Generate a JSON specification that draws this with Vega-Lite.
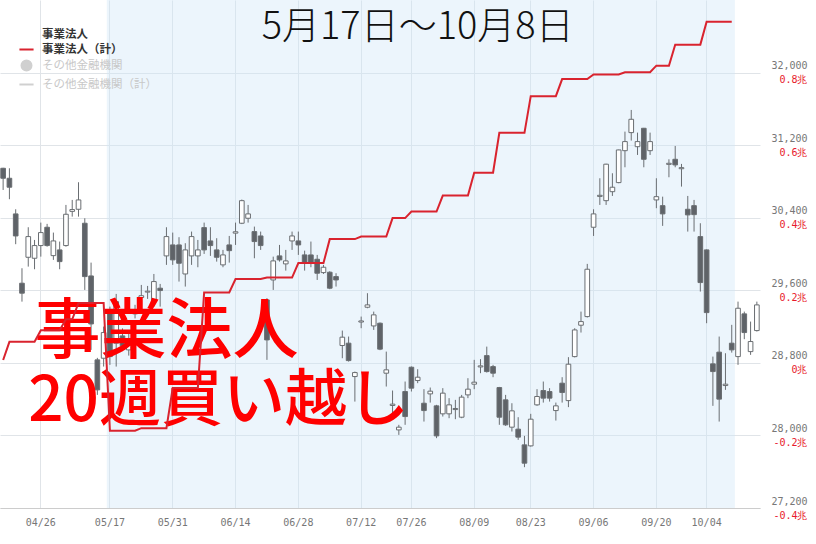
{
  "$schema": "https://vega.github.io/schema/vega-lite/v6.json",
  "width": 760,
  "height": 508,
  "autosize": {"type": "none"},
  "padding": {"left": 0, "top": 0, "right": 56, "bottom": 36},
  "background": "white",
  "config": {"view": {"stroke": null}, "font": "DejaVu Sans Mono"},
  "datasets": {
    "candles": [
      {"d":"04/16","o":30945,"h":30950,"l":30706,"c":30835},
      {"d":"04/19","o":30835,"h":30945,"l":30604,"c":30736},
      {"d":"04/20","o":30442,"h":30493,"l":30108,"c":30199},
      {"d":"04/21","o":29678,"h":29843,"l":29475,"c":29568},
      {"d":"04/22","o":29964,"h":30295,"l":29861,"c":30192},
      {"d":"04/23","o":29953,"h":30155,"l":29832,"c":30093},
      {"d":"04/26","o":30093,"h":30346,"l":29971,"c":30236},
      {"d":"04/27","o":30295,"h":30332,"l":30081,"c":30093},
      {"d":"04/28","o":29982,"h":30236,"l":29935,"c":30144},
      {"d":"04/30","o":30045,"h":30137,"l":29832,"c":29916},
      {"d":"05/06","o":30093,"h":30541,"l":30081,"c":30438},
      {"d":"05/07","o":30470,"h":30596,"l":30412,"c":30490},
      {"d":"05/10","o":30493,"h":30791,"l":30412,"c":30596},
      {"d":"05/11","o":30339,"h":30394,"l":29604,"c":29751},
      {"d":"05/12","o":29758,"h":29905,"l":28943,"c":29229},
      {"d":"05/13","o":28833,"h":28855,"l":28447,"c":28502},
      {"d":"05/14","o":28851,"h":29200,"l":28759,"c":29134},
      {"d":"05/17","o":29376,"h":29420,"l":28778,"c":28869},
      {"d":"05/18","o":29017,"h":29560,"l":28759,"c":29475},
      {"d":"05/19","o":29097,"h":29180,"l":28930,"c":28990},
      {"d":"05/20","o":28943,"h":29130,"l":28880,"c":29053},
      {"d":"05/21","o":29340,"h":29440,"l":29290,"c":29385},
      {"d":"05/24","o":29520,"h":29659,"l":29420,"c":29540},
      {"d":"05/25","o":29580,"h":29648,"l":29505,"c":29590},
      {"d":"05/26","o":29475,"h":29780,"l":29420,"c":29696},
      {"d":"05/27","o":29623,"h":29670,"l":29420,"c":29597},
      {"d":"05/28","o":29979,"h":30295,"l":29880,"c":30192},
      {"d":"05/31","o":30100,"h":30236,"l":29880,"c":29935},
      {"d":"06/01","o":30100,"h":30185,"l":29696,"c":29898},
      {"d":"06/02","o":29780,"h":30119,"l":29641,"c":30045},
      {"d":"06/03","o":29979,"h":30247,"l":29880,"c":30192},
      {"d":"06/04","o":29979,"h":30155,"l":29854,"c":30045},
      {"d":"06/07","o":30291,"h":30346,"l":30001,"c":30045},
      {"d":"06/08","o":30144,"h":30295,"l":29979,"c":30093},
      {"d":"06/09","o":30045,"h":30174,"l":29916,"c":29964},
      {"d":"06/10","o":29880,"h":30045,"l":29854,"c":29990},
      {"d":"06/11","o":30100,"h":30199,"l":29905,"c":30037},
      {"d":"06/14","o":30230,"h":30346,"l":30100,"c":30245},
      {"d":"06/15","o":30339,"h":30600,"l":30330,"c":30588},
      {"d":"06/16","o":30394,"h":30541,"l":30346,"c":30442},
      {"d":"06/17","o":30247,"h":30302,"l":29953,"c":30137},
      {"d":"06/18","o":30199,"h":30247,"l":30045,"c":30093},
      {"d":"06/21","o":29494,"h":29513,"l":28833,"c":29053},
      {"d":"06/22","o":29714,"h":29971,"l":29604,"c":29924},
      {"d":"06/23","o":29979,"h":30100,"l":29916,"c":29935},
      {"d":"06/24","o":29891,"h":30045,"l":29817,"c":29924},
      {"d":"06/25","o":30144,"h":30247,"l":30045,"c":30199},
      {"d":"06/28","o":30144,"h":30247,"l":29990,"c":30100},
      {"d":"06/29","o":29990,"h":30037,"l":29817,"c":29905},
      {"d":"06/30","o":29990,"h":30137,"l":29854,"c":29898},
      {"d":"07/01","o":29942,"h":29990,"l":29714,"c":29788},
      {"d":"07/02","o":29795,"h":29880,"l":29780,"c":29854},
      {"d":"07/05","o":29799,"h":29810,"l":29612,"c":29623},
      {"d":"07/06","o":29751,"h":29788,"l":29641,"c":29714},
      {"d":"07/07","o":28991,"h":29156,"l":28851,"c":29083},
      {"d":"07/08","o":29017,"h":29090,"l":28814,"c":28825},
      {"d":"07/09","o":28649,"h":28704,"l":28373,"c":28693},
      {"d":"07/12","o":29250,"h":29310,"l":29182,"c":29262},
      {"d":"07/13","o":29413,"h":29568,"l":29402,"c":29439},
      {"d":"07/14","o":29207,"h":29365,"l":29163,"c":29329},
      {"d":"07/15","o":29237,"h":29245,"l":28940,"c":28951},
      {"d":"07/16","o":28686,"h":28924,"l":28539,"c":28723},
      {"d":"07/19","o":28330,"h":28495,"l":28190,"c":28345},
      {"d":"07/20","o":28061,"h":28117,"l":28006,"c":28091},
      {"d":"07/21","o":28484,"h":28594,"l":28117,"c":28208},
      {"d":"07/26","o":28752,"h":28760,"l":28484,"c":28521},
      {"d":"07/27","o":28605,"h":28730,"l":28576,"c":28642},
      {"d":"07/28","o":28355,"h":28510,"l":28153,"c":28274},
      {"d":"07/29","o":28458,"h":28528,"l":28362,"c":28488},
      {"d":"07/30","o":28326,"h":28337,"l":27970,"c":27995},
      {"d":"08/02","o":28238,"h":28521,"l":28208,"c":28466},
      {"d":"08/03","o":28238,"h":28411,"l":28190,"c":28337},
      {"d":"08/04","o":28285,"h":28392,"l":28179,"c":28297},
      {"d":"08/05","o":28201,"h":28447,"l":28190,"c":28422},
      {"d":"08/06","o":28447,"h":28631,"l":28411,"c":28510},
      {"d":"08/10","o":28565,"h":28833,"l":28510,"c":28587},
      {"d":"08/11","o":28755,"h":28841,"l":28686,"c":28767},
      {"d":"08/12","o":28880,"h":28979,"l":28693,"c":28704},
      {"d":"08/13","o":28759,"h":28778,"l":28642,"c":28686},
      {"d":"08/16","o":28528,"h":28535,"l":28117,"c":28201},
      {"d":"08/17","o":28392,"h":28447,"l":28105,"c":28117},
      {"d":"08/18","o":28091,"h":28355,"l":28043,"c":28271},
      {"d":"08/19","o":28069,"h":28201,"l":27951,"c":27981},
      {"d":"08/20","o":27896,"h":27995,"l":27650,"c":27694},
      {"d":"08/23","o":27885,"h":28238,"l":27877,"c":28179},
      {"d":"08/24","o":28337,"h":28510,"l":28326,"c":28429},
      {"d":"08/25","o":28495,"h":28594,"l":28362,"c":28411},
      {"d":"08/26","o":28484,"h":28521,"l":28373,"c":28411},
      {"d":"08/27","o":28274,"h":28362,"l":28164,"c":28326},
      {"d":"08/30","o":28576,"h":28642,"l":28362,"c":28473},
      {"d":"08/31","o":28384,"h":28863,"l":28312,"c":28785},
      {"d":"09/01","o":28869,"h":29182,"l":28860,"c":29163},
      {"d":"09/02","o":29215,"h":29365,"l":29134,"c":29255},
      {"d":"09/03","o":29310,"h":29891,"l":29300,"c":29832},
      {"d":"09/06","o":30295,"h":30493,"l":30199,"c":30442},
      {"d":"09/07","o":30635,"h":30835,"l":30541,"c":30647},
      {"d":"09/08","o":30588,"h":30995,"l":30541,"c":30990},
      {"d":"09/09","o":30687,"h":30890,"l":30640,"c":30736},
      {"d":"09/10","o":30787,"h":31150,"l":30780,"c":31147},
      {"d":"09/13","o":31139,"h":31349,"l":30956,"c":31239},
      {"d":"09/14","o":31338,"h":31588,"l":31250,"c":31485},
      {"d":"09/15","o":31183,"h":31338,"l":31092,"c":31239},
      {"d":"09/16","o":31386,"h":31390,"l":30956,"c":31044},
      {"d":"09/17","o":31139,"h":31338,"l":31092,"c":31239},
      {"d":"09/21","o":30596,"h":30835,"l":30505,"c":30632},
      {"d":"09/22","o":30533,"h":30632,"l":30310,"c":30442},
      {"d":"09/24","o":30988,"h":31044,"l":30846,"c":31000},
      {"d":"09/27","o":31044,"h":31191,"l":30956,"c":30982},
      {"d":"09/28","o":30940,"h":30993,"l":30743,"c":30952},
      {"d":"09/29","o":30493,"h":30640,"l":30247,"c":30431},
      {"d":"09/30","o":30533,"h":30596,"l":30247,"c":30434},
      {"d":"10/01","o":30192,"h":30339,"l":29586,"c":29685},
      {"d":"10/04","o":30045,"h":30050,"l":29237,"c":29354},
      {"d":"10/05","o":28789,"h":28869,"l":28326,"c":28704},
      {"d":"10/06","o":28918,"h":29090,"l":28153,"c":28400},
      {"d":"10/07","o":28550,"h":28906,"l":28502,"c":28565},
      {"d":"10/08","o":29017,"h":29219,"l":28913,"c":28943},
      {"d":"10/11","o":28869,"h":29475,"l":28778,"c":29402},
      {"d":"10/12","o":29340,"h":29365,"l":29061,"c":29134},
      {"d":"10/13","o":28924,"h":29255,"l":28888,"c":29035},
      {"d":"10/14","o":29156,"h":29475,"l":29145,"c":29439}
    ],
    "flow": [
      {"d":"04/16","v":0.008},
      {"d":"04/19","v":0.058},{"d":"04/20","v":0.058},{"d":"04/21","v":0.058},{"d":"04/22","v":0.058},{"d":"04/23","v":0.058},
      {"d":"04/26","v":0.09},{"d":"04/27","v":0.09},{"d":"04/28","v":0.09},{"d":"04/30","v":0.09},
      {"d":"05/06","v":0.12},{"d":"05/07","v":0.12},
      {"d":"05/10","v":0.165},{"d":"05/11","v":0.165},{"d":"05/12","v":0.165},{"d":"05/13","v":0.165},{"d":"05/14","v":0.165},
      {"d":"05/17","v":-0.187},{"d":"05/18","v":-0.187},{"d":"05/19","v":-0.187},{"d":"05/20","v":-0.187},{"d":"05/21","v":-0.187},
      {"d":"05/24","v":-0.18},{"d":"05/25","v":-0.18},{"d":"05/26","v":-0.18},{"d":"05/27","v":-0.18},{"d":"05/28","v":-0.18},
      {"d":"05/31","v":-0.069},{"d":"06/01","v":-0.069},{"d":"06/02","v":-0.069},{"d":"06/03","v":-0.069},{"d":"06/04","v":-0.069},
      {"d":"06/07","v":0.194},{"d":"06/08","v":0.194},{"d":"06/09","v":0.194},{"d":"06/10","v":0.194},{"d":"06/11","v":0.194},
      {"d":"06/14","v":0.231},{"d":"06/15","v":0.231},{"d":"06/16","v":0.231},{"d":"06/17","v":0.231},{"d":"06/18","v":0.231},
      {"d":"06/21","v":0.235},{"d":"06/22","v":0.235},{"d":"06/23","v":0.235},{"d":"06/24","v":0.235},{"d":"06/25","v":0.235},
      {"d":"06/28","v":0.275},{"d":"06/29","v":0.275},{"d":"06/30","v":0.275},{"d":"07/01","v":0.275},{"d":"07/02","v":0.275},
      {"d":"07/05","v":0.341},{"d":"07/06","v":0.341},{"d":"07/07","v":0.341},{"d":"07/08","v":0.341},{"d":"07/09","v":0.341},
      {"d":"07/12","v":0.348},{"d":"07/13","v":0.348},{"d":"07/14","v":0.348},{"d":"07/15","v":0.348},{"d":"07/16","v":0.348},
      {"d":"07/19","v":0.399},{"d":"07/20","v":0.399},{"d":"07/21","v":0.399},
      {"d":"07/26","v":0.417},{"d":"07/27","v":0.417},{"d":"07/28","v":0.417},{"d":"07/29","v":0.417},{"d":"07/30","v":0.417},
      {"d":"08/02","v":0.461},{"d":"08/03","v":0.461},{"d":"08/04","v":0.461},{"d":"08/05","v":0.461},{"d":"08/06","v":0.461},
      {"d":"08/10","v":0.524},{"d":"08/11","v":0.524},{"d":"08/12","v":0.524},{"d":"08/13","v":0.524},
      {"d":"08/16","v":0.634},{"d":"08/17","v":0.634},{"d":"08/18","v":0.634},{"d":"08/19","v":0.634},{"d":"08/20","v":0.634},
      {"d":"08/23","v":0.735},{"d":"08/24","v":0.735},{"d":"08/25","v":0.735},{"d":"08/26","v":0.735},{"d":"08/27","v":0.735},
      {"d":"08/30","v":0.782},{"d":"08/31","v":0.782},{"d":"09/01","v":0.782},{"d":"09/02","v":0.782},{"d":"09/03","v":0.782},
      {"d":"09/06","v":0.795},{"d":"09/07","v":0.795},{"d":"09/08","v":0.795},{"d":"09/09","v":0.795},{"d":"09/10","v":0.795},
      {"d":"09/13","v":0.801},{"d":"09/14","v":0.801},{"d":"09/15","v":0.801},{"d":"09/16","v":0.801},{"d":"09/17","v":0.801},
      {"d":"09/21","v":0.819},{"d":"09/22","v":0.819},{"d":"09/24","v":0.819},
      {"d":"09/27","v":0.877},{"d":"09/28","v":0.877},{"d":"09/29","v":0.877},{"d":"09/30","v":0.877},{"d":"10/01","v":0.877},
      {"d":"10/04","v":0.94},{"d":"10/05","v":0.94},{"d":"10/06","v":0.94},{"d":"10/07","v":0.94},{"d":"10/08","v":0.94}
    ]
  },
  "layer": [
    {
      "layer": [
        {
          "data": {"name": "candles"},
          "mark": {"type": "rule", "color": "#6a6e72", "strokeWidth": 1, "opacity": 0},
          "encoding": {
            "x": {"field": "d", "type": "ordinal",
              "scale": {"type": "band", "paddingInner": 0, "paddingOuter": 0, "domain": ["04/16","04/19","04/20","04/21","04/22","04/23","04/26","04/27","04/28","04/30","05/06","05/07","05/10","05/11","05/12","05/13","05/14","05/17","05/18","05/19","05/20","05/21","05/24","05/25","05/26","05/27","05/28","05/31","06/01","06/02","06/03","06/04","06/07","06/08","06/09","06/10","06/11","06/14","06/15","06/16","06/17","06/18","06/21","06/22","06/23","06/24","06/25","06/28","06/29","06/30","07/01","07/02","07/05","07/06","07/07","07/08","07/09","07/12","07/13","07/14","07/15","07/16","07/19","07/20","07/21","07/26","07/27","07/28","07/29","07/30","08/02","08/03","08/04","08/05","08/06","08/10","08/11","08/12","08/13","08/16","08/17","08/18","08/19","08/20","08/23","08/24","08/25","08/26","08/27","08/30","08/31","09/01","09/02","09/03","09/06","09/07","09/08","09/09","09/10","09/13","09/14","09/15","09/16","09/17","09/21","09/22","09/24","09/27","09/28","09/29","09/30","10/01","10/04","10/05","10/06","10/07","10/08","10/11","10/12","10/13","10/14"]},
              "axis": {"title": null, "orient": "bottom", "values": ["04/26","05/17","05/31","06/14","06/28","07/12","07/26","08/10","08/23","09/06","09/21","10/04"],
                "labelExpr": "datum.value == '08/10' ? '08/09' : datum.value == '09/21' ? '09/20' : datum.value",
                "bandPosition": 0.5, "labelAngle": 0, "labelFont": "DejaVu Sans Mono", "labelFontSize": 10, "labelColor": "#777777",
                "ticks": false, "labelPadding": 9, "domain": true, "domainColor": "#cccccc",
                "grid": true, "gridColor": "#e0e4e8", "gridWidth": 1}},
            "y": {"field": "l", "type": "quantitative", "scale": {"domain": [27200, 32800], "nice": false, "zero": false},
              "axis": {"title": null, "orient": "right", "values": [27200, 28000, 28800, 29600, 30400, 31200, 32000],
                "labelExpr": "format(datum.value, ',')",
                "labelFont": "DejaVu Sans Mono", "labelFontSize": 10, "labelColor": "#777777", "labelAlign": "right", "labelBaseline": "middle",
                "labelOffset": -7, "labelPadding": 47, "ticks": false, "tickSize": 0, "domain": false, "labelFlush": false, "labelOverlap": false,
                "grid": true, "gridColor": "#e0e4e8", "gridWidth": 1}},
            "y2": {"field": "h"}
          }
        },
        {
          "data": {"values": [{}]},
          "mark": {"type": "rect", "color": "#cfe7f8", "opacity": 0.4},
          "encoding": {
            "x": {"datum": "05/17", "type": "ordinal", "bandPosition": 0,
              "scale": {"type": "band", "paddingInner": 0, "paddingOuter": 0, "domain": ["04/16","04/19","04/20","04/21","04/22","04/23","04/26","04/27","04/28","04/30","05/06","05/07","05/10","05/11","05/12","05/13","05/14","05/17","05/18","05/19","05/20","05/21","05/24","05/25","05/26","05/27","05/28","05/31","06/01","06/02","06/03","06/04","06/07","06/08","06/09","06/10","06/11","06/14","06/15","06/16","06/17","06/18","06/21","06/22","06/23","06/24","06/25","06/28","06/29","06/30","07/01","07/02","07/05","07/06","07/07","07/08","07/09","07/12","07/13","07/14","07/15","07/16","07/19","07/20","07/21","07/26","07/27","07/28","07/29","07/30","08/02","08/03","08/04","08/05","08/06","08/10","08/11","08/12","08/13","08/16","08/17","08/18","08/19","08/20","08/23","08/24","08/25","08/26","08/27","08/30","08/31","09/01","09/02","09/03","09/06","09/07","09/08","09/09","09/10","09/13","09/14","09/15","09/16","09/17","09/21","09/22","09/24","09/27","09/28","09/29","09/30","10/01","10/04","10/05","10/06","10/07","10/08","10/11","10/12","10/13","10/14"]}},
            "x2": {"datum": "10/08", "bandPosition": 1},
            "y": {"datum": 32800, "type": "quantitative", "scale": {"domain": [27200, 32800], "nice": false, "zero": false}},
            "y2": {"datum": 27200}
          }
        },
        {
          "data": {"name": "candles"},
          "mark": {"type": "rule", "color": "#6a6e72", "strokeWidth": 1},
          "encoding": {
            "x": {"field": "d", "type": "ordinal",
              "scale": {"type": "band", "paddingInner": 0, "paddingOuter": 0, "domain": ["04/16","04/19","04/20","04/21","04/22","04/23","04/26","04/27","04/28","04/30","05/06","05/07","05/10","05/11","05/12","05/13","05/14","05/17","05/18","05/19","05/20","05/21","05/24","05/25","05/26","05/27","05/28","05/31","06/01","06/02","06/03","06/04","06/07","06/08","06/09","06/10","06/11","06/14","06/15","06/16","06/17","06/18","06/21","06/22","06/23","06/24","06/25","06/28","06/29","06/30","07/01","07/02","07/05","07/06","07/07","07/08","07/09","07/12","07/13","07/14","07/15","07/16","07/19","07/20","07/21","07/26","07/27","07/28","07/29","07/30","08/02","08/03","08/04","08/05","08/06","08/10","08/11","08/12","08/13","08/16","08/17","08/18","08/19","08/20","08/23","08/24","08/25","08/26","08/27","08/30","08/31","09/01","09/02","09/03","09/06","09/07","09/08","09/09","09/10","09/13","09/14","09/15","09/16","09/17","09/21","09/22","09/24","09/27","09/28","09/29","09/30","10/01","10/04","10/05","10/06","10/07","10/08","10/11","10/12","10/13","10/14"]}},
            "y": {"field": "l", "type": "quantitative", "scale": {"domain": [27200, 32800], "nice": false, "zero": false}},
            "y2": {"field": "h"}
          }
        },
        {
          "data": {"name": "candles"},
          "mark": {"type": "bar", "width": {"band": 0.74}, "stroke": "#6a6e72", "strokeWidth": 1},
          "encoding": {
            "x": {"field": "d", "type": "ordinal",
              "scale": {"type": "band", "paddingInner": 0, "paddingOuter": 0, "domain": ["04/16","04/19","04/20","04/21","04/22","04/23","04/26","04/27","04/28","04/30","05/06","05/07","05/10","05/11","05/12","05/13","05/14","05/17","05/18","05/19","05/20","05/21","05/24","05/25","05/26","05/27","05/28","05/31","06/01","06/02","06/03","06/04","06/07","06/08","06/09","06/10","06/11","06/14","06/15","06/16","06/17","06/18","06/21","06/22","06/23","06/24","06/25","06/28","06/29","06/30","07/01","07/02","07/05","07/06","07/07","07/08","07/09","07/12","07/13","07/14","07/15","07/16","07/19","07/20","07/21","07/26","07/27","07/28","07/29","07/30","08/02","08/03","08/04","08/05","08/06","08/10","08/11","08/12","08/13","08/16","08/17","08/18","08/19","08/20","08/23","08/24","08/25","08/26","08/27","08/30","08/31","09/01","09/02","09/03","09/06","09/07","09/08","09/09","09/10","09/13","09/14","09/15","09/16","09/17","09/21","09/22","09/24","09/27","09/28","09/29","09/30","10/01","10/04","10/05","10/06","10/07","10/08","10/11","10/12","10/13","10/14"]}},
            "y": {"field": "o", "type": "quantitative", "scale": {"domain": [27200, 32800], "nice": false, "zero": false}},
            "y2": {"field": "c"},
            "fill": {"condition": {"test": "datum.c < datum.o", "value": "#5f6368"}, "value": "#ffffff"}
          }
        },
        {
          "data": {"values": [{}]},
          "mark": {"type": "text", "text": "5月17日～10月8日", "font": "Noto Sans CJK JP", "fontSize": 38, "fontWeight": 300, "color": "#111111", "align": "center", "baseline": "middle"},
          "encoding": {
            "x": {"datum": "07/27", "type": "ordinal",
              "scale": {"type": "band", "paddingInner": 0, "paddingOuter": 0, "domain": ["04/16","04/19","04/20","04/21","04/22","04/23","04/26","04/27","04/28","04/30","05/06","05/07","05/10","05/11","05/12","05/13","05/14","05/17","05/18","05/19","05/20","05/21","05/24","05/25","05/26","05/27","05/28","05/31","06/01","06/02","06/03","06/04","06/07","06/08","06/09","06/10","06/11","06/14","06/15","06/16","06/17","06/18","06/21","06/22","06/23","06/24","06/25","06/28","06/29","06/30","07/01","07/02","07/05","07/06","07/07","07/08","07/09","07/12","07/13","07/14","07/15","07/16","07/19","07/20","07/21","07/26","07/27","07/28","07/29","07/30","08/02","08/03","08/04","08/05","08/06","08/10","08/11","08/12","08/13","08/16","08/17","08/18","08/19","08/20","08/23","08/24","08/25","08/26","08/27","08/30","08/31","09/01","09/02","09/03","09/06","09/07","09/08","09/09","09/10","09/13","09/14","09/15","09/16","09/17","09/21","09/22","09/24","09/27","09/28","09/29","09/30","10/01","10/04","10/05","10/06","10/07","10/08","10/11","10/12","10/13","10/14"]}},
            "y": {"datum": 32490, "type": "quantitative", "scale": {"domain": [27200, 32800], "nice": false, "zero": false}}
          }
        },
        {
          "data": {"values": [{}]},
          "mark": {"type": "text", "text": "事業法人", "font": "Noto Sans CJK JP", "fontSize": 66, "fontWeight": 500, "color": "#ff0000", "align": "left", "baseline": "middle"},
          "encoding": {
            "x": {"datum": "04/23", "type": "ordinal",
              "scale": {"type": "band", "paddingInner": 0, "paddingOuter": 0, "domain": ["04/16","04/19","04/20","04/21","04/22","04/23","04/26","04/27","04/28","04/30","05/06","05/07","05/10","05/11","05/12","05/13","05/14","05/17","05/18","05/19","05/20","05/21","05/24","05/25","05/26","05/27","05/28","05/31","06/01","06/02","06/03","06/04","06/07","06/08","06/09","06/10","06/11","06/14","06/15","06/16","06/17","06/18","06/21","06/22","06/23","06/24","06/25","06/28","06/29","06/30","07/01","07/02","07/05","07/06","07/07","07/08","07/09","07/12","07/13","07/14","07/15","07/16","07/19","07/20","07/21","07/26","07/27","07/28","07/29","07/30","08/02","08/03","08/04","08/05","08/06","08/10","08/11","08/12","08/13","08/16","08/17","08/18","08/19","08/20","08/23","08/24","08/25","08/26","08/27","08/30","08/31","09/01","09/02","09/03","09/06","09/07","09/08","09/09","09/10","09/13","09/14","09/15","09/16","09/17","09/21","09/22","09/24","09/27","09/28","09/29","09/30","10/01","10/04","10/05","10/06","10/07","10/08","10/11","10/12","10/13","10/14"]}},
            "y": {"datum": 29130, "type": "quantitative", "scale": {"domain": [27200, 32800], "nice": false, "zero": false}}
          }
        },
        {
          "data": {"values": [{}]},
          "mark": {"type": "text", "text": "20週買い越し", "font": "Noto Sans CJK JP", "fontSize": 62, "fontWeight": 500, "color": "#ff0000", "align": "left", "baseline": "middle"},
          "encoding": {
            "x": {"datum": "04/22", "type": "ordinal",
              "scale": {"type": "band", "paddingInner": 0, "paddingOuter": 0, "domain": ["04/16","04/19","04/20","04/21","04/22","04/23","04/26","04/27","04/28","04/30","05/06","05/07","05/10","05/11","05/12","05/13","05/14","05/17","05/18","05/19","05/20","05/21","05/24","05/25","05/26","05/27","05/28","05/31","06/01","06/02","06/03","06/04","06/07","06/08","06/09","06/10","06/11","06/14","06/15","06/16","06/17","06/18","06/21","06/22","06/23","06/24","06/25","06/28","06/29","06/30","07/01","07/02","07/05","07/06","07/07","07/08","07/09","07/12","07/13","07/14","07/15","07/16","07/19","07/20","07/21","07/26","07/27","07/28","07/29","07/30","08/02","08/03","08/04","08/05","08/06","08/10","08/11","08/12","08/13","08/16","08/17","08/18","08/19","08/20","08/23","08/24","08/25","08/26","08/27","08/30","08/31","09/01","09/02","09/03","09/06","09/07","09/08","09/09","09/10","09/13","09/14","09/15","09/16","09/17","09/21","09/22","09/24","09/27","09/28","09/29","09/30","10/01","10/04","10/05","10/06","10/07","10/08","10/11","10/12","10/13","10/14"]}},
            "y": {"datum": 28370, "type": "quantitative", "scale": {"domain": [27200, 32800], "nice": false, "zero": false}}
          }
        }
      ]
    },
    {
      "data": {"name": "flow"},
      "mark": {"type": "line", "strokeWidth": 2, "interpolate": "linear"},
      "encoding": {
        "x": {"field": "d", "type": "ordinal",
          "scale": {"type": "band", "paddingInner": 0, "paddingOuter": 0, "domain": ["04/16","04/19","04/20","04/21","04/22","04/23","04/26","04/27","04/28","04/30","05/06","05/07","05/10","05/11","05/12","05/13","05/14","05/17","05/18","05/19","05/20","05/21","05/24","05/25","05/26","05/27","05/28","05/31","06/01","06/02","06/03","06/04","06/07","06/08","06/09","06/10","06/11","06/14","06/15","06/16","06/17","06/18","06/21","06/22","06/23","06/24","06/25","06/28","06/29","06/30","07/01","07/02","07/05","07/06","07/07","07/08","07/09","07/12","07/13","07/14","07/15","07/16","07/19","07/20","07/21","07/26","07/27","07/28","07/29","07/30","08/02","08/03","08/04","08/05","08/06","08/10","08/11","08/12","08/13","08/16","08/17","08/18","08/19","08/20","08/23","08/24","08/25","08/26","08/27","08/30","08/31","09/01","09/02","09/03","09/06","09/07","09/08","09/09","09/10","09/13","09/14","09/15","09/16","09/17","09/21","09/22","09/24","09/27","09/28","09/29","09/30","10/01","10/04","10/05","10/06","10/07","10/08","10/11","10/12","10/13","10/14"]}},
        "y": {"field": "v", "type": "quantitative", "scale": {"domain": [-0.4, 1.0], "nice": false, "zero": false},
          "axis": {"title": null, "orient": "right", "values": [-0.4, -0.2, 0, 0.2, 0.4, 0.6, 0.8],
            "labelExpr": "datum.value + '兆'",
            "labelFont": "DejaVu Sans Mono", "labelFontSize": 10, "labelColor": "#e8192c", "labelAlign": "right", "labelBaseline": "middle",
            "labelOffset": 7, "labelPadding": 47, "ticks": false, "tickSize": 0, "domain": false, "labelFlush": false, "labelOverlap": false,
            "grid": false}},
        "color": {"datum": "事業法人（計）", "type": "nominal",
          "scale": {"domain": ["事業法人", "事業法人（計）", "その他金融機関", "その他金融機関（計）"], "range": ["#333333", "#d9232e", "#d0d0d0", "#d0d0d0"]},
          "legend": {"title": null, "orient": "none", "legendX": 18, "legendY": 26,
            "symbolType": "stroke", "symbolSize": 200, "symbolStrokeWidth": 2,
            "labelFont": "Noto Sans CJK JP", "labelFontSize": 11.5, "labelFontWeight": "bold", "labelColor": "#333333",
            "labelOffset": 7, "rowPadding": 1,
            "encode": {
              "symbols": {"update": {
                "shape": {"signal": "datum.label === 'その他金融機関' ? 'circle' : 'stroke'"},
                "size": {"signal": "datum.label === 'その他金融機関' ? 100 : 200"},
                "fill": {"signal": "datum.label === 'その他金融機関' ? '#d0d0d0' : 'transparent'"},
                "opacity": {"signal": "datum.label === '事業法人' ? 0 : 1"}}},
              "labels": {"update": {
                "fill": {"signal": "indexof(datum.label, 'その他') === 0 ? '#c8c8c8' : '#333333'"},
                "fontWeight": {"signal": "indexof(datum.label, 'その他') === 0 ? 'normal' : 'bold'"}}}
            }}}
      }
    }
  ],
  "resolve": {"scale": {"y": "independent"}}
}
